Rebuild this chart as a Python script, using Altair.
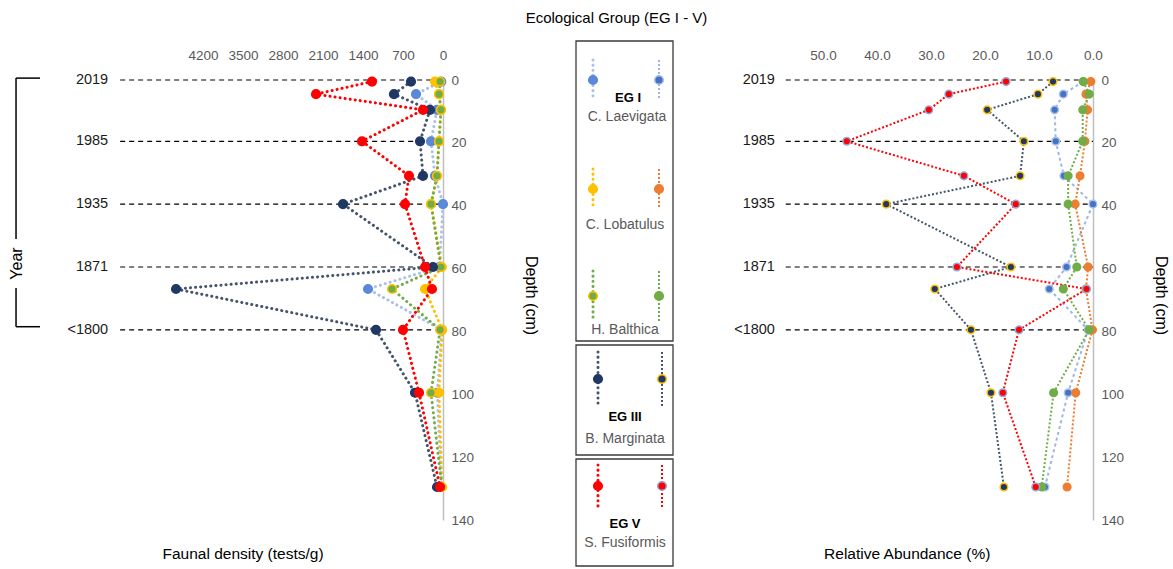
import altair as alt
import pandas as pd

FONT = "Liberation Sans"
GRAY = "#595959"

# ---------------- data ----------------
depths = [0.5, 4.5, 9.5, 19.5, 30.5, 39.5, 59.5, 66.5, 79.5, 99.5, 129.5]
species = ["C. Laevigata", "C. Lobatulus", "H. Balthica", "B. Marginata", "S. Fusiformis"]
group_labels = ["EG I", "EG III", "EG V"]

# Faunal density (tests/g)
density_laevigata = [30, 472, 105, 210, 140, 0, 60, 1312, 20, 100, 30]
density_lobatulus = [140, 70, 35, 70, 105, 210, 20, 315, 15, 70, 15]
density_balthica = [50, 70, 35, 70, 105, 210, 35, 892, 50, 210, 20]
density_marginata = [560, 858, 228, 402, 350, 1750, 175, 4672, 1173, 490, 105]
density_fusiformis = [1243, 2222, 350, 1418, 595, 665, 315, 193, 700, 420, 52]

# Relative abundance (%)
abund_laevigata = [1.8, 5.5, 7.1, 6.9, 5.4, 0.0, 4.9, 8.1, 0.9, 4.6, 8.9]
abund_lobatulus = [0.4, 1.3, 1.0, 1.5, 2.4, 3.3, 0.9, 1.3, 0.1, 3.2, 4.8]
abund_balthica = [1.8, 0.7, 1.9, 1.9, 4.6, 4.6, 3.0, 5.5, 0.7, 7.3, 9.5]
abund_marginata = [7.4, 10.2, 19.6, 12.8, 13.5, 38.3, 15.2, 29.3, 22.6, 18.9, 16.5]
abund_fusiformis = [16.1, 26.7, 30.4, 45.6, 23.9, 14.3, 25.2, 1.2, 13.7, 16.7, 10.6]

years = ["2019", "1985", "1935", "1871", "<1800"]
year_depths = [0, 19.5, 39.5, 59.5, 79.5]

density_ticks = [0, 700, 1400, 2100, 2800, 3500, 4200]
abundance_ticks = [0, 10, 20, 30, 40, 50]
depth_ticks = [0, 20, 40, 60, 80, 100, 120, 140]

# ---------------- styles ----------------
left_fill = ["#5B88D8", "#FFC000", "#70AD47", "#203864", "#FF0000"]
left_stroke = ["#5B88D8", "#FFC000", "#FFC000", "#203864", "#FF0000"]
left_line = ["#A9C1E9", "#FFC000", "#70AD47", "#44546A", "#FF0000"]
right_fill = ["#4472C4", "#ED7D31", "#70AD47", "#203864", "#FF0000"]
right_stroke = ["#A9C0E8", "#ED7D31", "#70AD47", "#FFC000", "#8FAADC"]
right_line = ["#9DB6E4", "#ED7D31", "#70AD47", "#44546A", "#FF0000"]
right_dash = [[3, 3], [2, 2], [2, 2], [2, 2], [2, 2]]


def long_df(series):
    rows = []
    for i, (s, vals) in enumerate(zip(species, series)):
        for d, v in zip(depths, vals):
            rows.append({"species": s, "idx": i, "depth": d, "value": v})
    return pd.DataFrame(rows)


left_df = long_df([density_laevigata, density_lobatulus, density_balthica,
                   density_marginata, density_fusiformis])
right_df = long_df([abund_laevigata, abund_lobatulus, abund_balthica,
                    abund_marginata, abund_fusiformis])
years_df = pd.DataFrame({"label": years, "depth": year_depths})

yD = alt.Scale(domain=[0, 140], range=[0, 440], nice=False, zero=False)


def y_axis(offset, title_x):
    return alt.Axis(orient="right", offset=offset, values=depth_ticks, ticks=False, tickSize=0,
                    grid=False, domainColor="#BFBFBF", domainWidth=1.5, labelPadding=8,
                    labelFont=FONT, labelFontSize=13.5, labelColor=GRAY, labelFlush=False,
                    labelOverlap=False, title="Depth (cm)", titleFont=FONT, titleFontSize=16,
                    titleFontWeight="normal", titleColor="#000000", titleAngle=90,
                    titleX=title_x, titleY=215, titleAlign="center", titleBaseline="middle")


def x_axis(values, fmt):
    return alt.Axis(orient="top", values=values, format=fmt, domain=False, ticks=False, tickSize=0,
                    grid=False, labelPadding=18, labelFont=FONT, labelFontSize=13.5,
                    labelColor=GRAY, labelFlush=False, labelOverlap=False, title=None)


def panel(df, xs, xa, ya, fills, strokes, lines, line_mark, line_extra, rule_start, label_x,
          xtitle, xtitle_x, size, extra_layers=()):
    X = lambda f: alt.X(f, scale=xs, axis=xa)
    Y = lambda f: alt.Y(f, scale=yD, axis=ya)
    rules = alt.Chart(years_df).mark_rule(color="#000000", strokeWidth=1.2, strokeDash=[5, 4]).encode(
        x=alt.XDatum(rule_start, type="quantitative", scale=xs, axis=xa),
        x2=alt.X2Datum(0), y=Y("depth:Q"))
    labels = alt.Chart(years_df).mark_text(align="right", baseline="middle", font=FONT,
                                           fontSize=14.5, color="#1a1a1a").encode(
        x=alt.XDatum(label_x, type="quantitative", scale=xs, axis=xa), y=Y("depth:Q"), text="label:N")
    title_df = pd.DataFrame({"t": [xtitle]})
    xt = alt.Chart(title_df).mark_text(font=FONT, fontSize=15.5, color="#000000", baseline="middle").encode(
        x=alt.XDatum(xtitle_x, type="quantitative", scale=xs, axis=xa),
        y=alt.YDatum(150.8, type="quantitative", scale=yD, axis=ya), text="t:N")
    enc = dict(x=X("value:Q"), y=Y("depth:Q"),
               color=alt.Color("species:N", scale=alt.Scale(domain=species, range=lines), legend=None),
               order=alt.Order("depth:Q"))
    enc.update(line_extra)
    ln = alt.Chart(df).mark_line(**line_mark).encode(**enc)
    pts = alt.Chart(df).mark_point(shape="circle", filled=True, size=size, strokeWidth=1.5, opacity=1).encode(
        x=X("value:Q"), y=Y("depth:Q"),
        fill=alt.Fill("species:N", scale=alt.Scale(domain=species, range=fills), legend=None),
        stroke=alt.Stroke("species:N", scale=alt.Scale(domain=species, range=strokes), legend=None),
        order=alt.Order("idx:Q"))
    return alt.layer(rules, labels, xt, *extra_layers, ln, pts)


# ---------------- left panel ----------------
xL = alt.Scale(domain=[0, 4200], range=[443, 203], nice=False, zero=False)
axL = x_axis(density_ticks, "d")
ayL = y_axis(-730, 87)

bracket_df = pd.DataFrame({
    "x": [7472, 7472, 7472, 7472],
    "x2": [7052, 7472, 7472, 7052],
    "y": [-0.6, -0.6, 66.2, 78.5],
    "y2": [-0.6, 50.6, 78.5, 78.5],
})
bracket = alt.Chart(bracket_df).mark_rule(color="#000000", strokeWidth=1.5).encode(
    x=alt.X("x:Q", scale=xL, axis=axL), x2="x2:Q",
    y=alt.Y("y:Q", scale=yD, axis=ayL), y2="y2:Q")
year_word = alt.Chart(pd.DataFrame({"t": ["Year"]})).mark_text(
    font=FONT, fontSize=16, angle=270, color="#000000", baseline="middle").encode(
    x=alt.XDatum(7455, type="quantitative", scale=xL, axis=axL),
    y=alt.YDatum(58.4, type="quantitative", scale=yD, axis=ayL), text="t:N")

left = panel(left_df, xL, axL, ayL, left_fill, left_stroke, left_line,
             dict(strokeWidth=3, strokeDash=[0.1, 5], strokeCap="round"), {},
             5650, 5860, "Faunal density (tests/g)", 3500, 75, (bracket, year_word))

# ---------------- right panel ----------------
xR = alt.Scale(domain=[0, 50], range=[1093, 823], nice=False, zero=False)
axR = x_axis(abundance_ticks, ".1f")
ayR = y_axis(-80, 67)
right = panel(right_df, xR, axR, ayR, right_fill, right_stroke, right_line,
              dict(strokeWidth=2), {"strokeDash": alt.StrokeDash(
                  "species:N", scale=alt.Scale(domain=species, range=right_dash), legend=None)},
              56.9, 58.9, "Relative Abundance (%)", 34.4, 58)

# ---------------- middle legend ----------------
leg_x = alt.Scale(domain=[0, 97], range=[576, 673], nice=False, zero=False)
leg_y = alt.Scale(domain=[0, 525], range=[-39, 486], nice=False, zero=False)
LX = lambda f: alt.X(f, scale=leg_x, axis=None)
LY = lambda f: alt.Y(f, scale=leg_y, axis=None)

box_top = [0, 304, 418]
box_bottom = [300, 414, 525]
item_y = [39, 148, 255, 338, 445]
item_half = [20, 20, 25, 27, 21]
item_left_x = [17, 17, 17, 22, 22]
item_right_x = [83, 83, 83, 86, 86]
group_pos = [(52, 57), (49, 376), (49, 483)]
name_pos = [(51, 76), (49, 184), (49, 289), (49, 398), (49, 502)]

keys = ["L " + s for s in species] + ["R " + s for s in species]
key_line = left_line + right_line
key_fill = left_fill + right_fill
key_stroke = left_stroke + right_stroke

items = []
for i, s in enumerate(species):
    for side, xs_ in (("L", item_left_x[i]), ("R", item_right_x[i])):
        items.append({"key": side + " " + s, "side": side, "x": xs_, "y": item_y[i],
                      "y0": item_y[i] - item_half[i], "y1": item_y[i] + item_half[i]})
items_df = pd.DataFrame(items)

boxes = alt.Chart(pd.DataFrame({"y0": box_top, "y1": box_bottom})).mark_rect(
    fillOpacity=0, stroke="#3A3A3A", strokeWidth=1.3).encode(
    x=alt.XDatum(0, type="quantitative", scale=leg_x, axis=None), x2=alt.X2Datum(97),
    y=LY("y0:Q"), y2="y1:Q")
kcol = alt.Color("key:N", scale=alt.Scale(domain=keys, range=key_line), legend=None)
leg_lines_l = alt.Chart(items_df).transform_filter("datum.side == 'L'").mark_rule(
    strokeWidth=3, strokeDash=[0.1, 5], strokeCap="round").encode(
    x=LX("x:Q"), y=LY("y0:Q"), y2="y1:Q", color=kcol)
leg_lines_r = alt.Chart(items_df).transform_filter("datum.side == 'R'").mark_rule(
    strokeWidth=2, strokeDash=[2, 2]).encode(
    x=LX("x:Q"), y=LY("y0:Q"), y2="y1:Q", color=kcol)
leg_pts = alt.Chart(items_df).mark_point(shape="circle", filled=True, size=75, strokeWidth=1.5,
                                         opacity=1).encode(
    x=LX("x:Q"), y=LY("y:Q"),
    fill=alt.Fill("key:N", scale=alt.Scale(domain=keys, range=key_fill), legend=None),
    stroke=alt.Stroke("key:N", scale=alt.Scale(domain=keys, range=key_stroke), legend=None))
grp_df = pd.DataFrame({"t": group_labels, "x": [p[0] for p in group_pos], "y": [p[1] for p in group_pos]})
name_df = pd.DataFrame({"t": species, "x": [p[0] for p in name_pos], "y": [p[1] for p in name_pos]})
grp_txt = alt.Chart(grp_df).mark_text(font=FONT, fontSize=13, fontWeight="bold", color="#000000",
                                      baseline="middle").encode(x=LX("x:Q"), y=LY("y:Q"), text="t:N")
name_txt = alt.Chart(name_df).mark_text(font=FONT, fontSize=14, color=GRAY,
                                        baseline="middle").encode(x=LX("x:Q"), y=LY("y:Q"), text="t:N")
legend = alt.layer(boxes, leg_lines_l, leg_lines_r, leg_pts, grp_txt, name_txt)

chart = alt.layer(left, legend, right).resolve_scale(
    x="independent", y="independent", color="independent", fill="independent",
    stroke="independent", strokeDash="independent"
).resolve_axis(x="independent", y="independent").properties(
    width=1173, height=440,
    padding={"left": 0, "top": 80, "right": 0, "bottom": 49},
    autosize=alt.AutoSizeParams(type="none"),
    background="white",
    title=alt.TitleParams("Ecological Group (EG I - V)", font=FONT, fontSize=15, fontWeight="normal",
                          color="#000000", anchor="middle", dx=30, offset=14),
).configure_view(strokeWidth=0, stroke="transparent")

chart.save("out.html", embed_options={"renderer": "svg", "actions": False})
